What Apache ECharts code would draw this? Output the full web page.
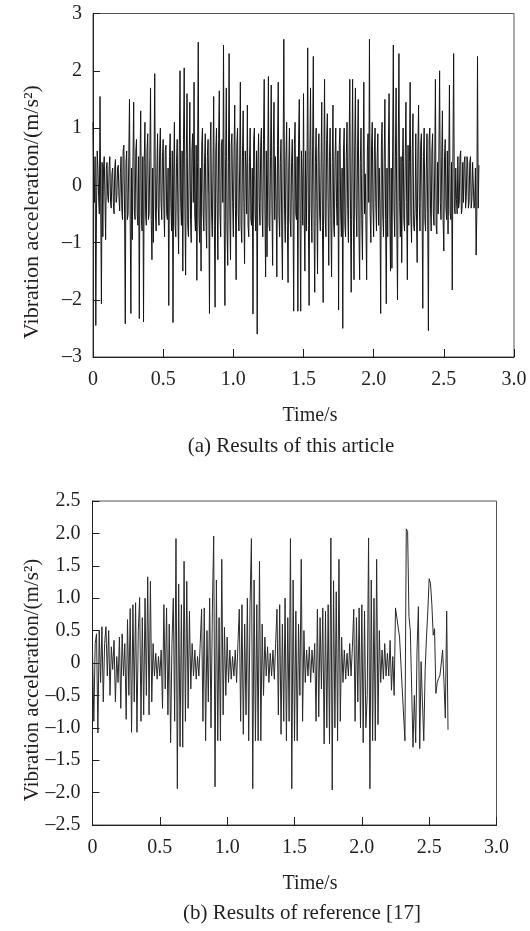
<!DOCTYPE html>
<html><head><meta charset="utf-8">
<script src="https://cdn.jsdelivr.net/npm/echarts/dist/echarts.min.js"></script>
<style>html,body{margin:0;padding:0;background:#fff}#c{width:530px;height:931px}</style>
</head><body><div id="c"></div>
<script>
// sampling steps (s)
const topStep = 0.005;
const bottomStep = 0.01;
const xTickLabels = ['0', '0.5', '1.0', '1.5', '2.0', '2.5', '3.0'];
const topYTickLabels = ['\u20133', '\u20132', '\u20131', '0', '1', '2', '3'];
const bottomYTickLabels = ['\u20132.5', '\u20132.0', '\u20131.5', '\u20131.0', '\u20130.5', '0', '0.5', '1.0', '1.5', '2.0', '2.5'];
const xTitle = 'Time/s';
const yTitle = 'Vibration acceleration/(m/s\u00b2)';
const captionTop = '(a) Results of this article';
const captionBottom = '(b) Results of reference [17]';

// (a) vibration acceleration, this article: samples at 0.00, 0.01, 0.02 ... s
const topValues = [
  1.1, -0.3, -2.45, 0.6, -0.2, 1.55, -2.07, -0.9, 0.5, -0.95,
  0.4, -0.3, 0.5, -0.4, 0.3, -0.5, 0.45, -0.2, 0.35, -0.45,
  0.5, -0.6, 0.7, -2.42, 0.6, -0.5, 1.5, -2.24, -0.95, 1.45,
  -0.6, 0.8, -0.7, -2.33, 1.3, -0.8, -2.39, 1.1, -0.7, 0.9,
  -0.5, 1.7, -1.3, -1.0, 1.95, -0.8, 0.9, -0.7, 1.0, -0.6,
  0.8, -0.9, 0.7, -0.6, -2.1, 0.9, -0.8, -2.4, 1.1, -0.9,
  0.8, -1.2, 2.0, -0.7, -1.5, 2.05, -1.57, 1.6, -0.9, 1.45,
  -1.0, 0.9, 1.8, -0.8, -1.66, 2.5, -1.0, -1.5, 1.0, -0.8,
  0.9, -1.1, 0.8, -2.24, 1.1, -0.9, 1.55, -2.13, 1.0, -1.3,
  1.65, -0.9, 0.8, 2.45, -2.1, 1.7, -1.4, 2.3, -1.3, 0.9,
  -0.9, 1.4, -1.65, 1.0, -0.8, 1.8, -1.0, 1.3, -1.37, 0.3,
  1.4, -0.9, 1.0, -0.7, -2.25, 1.0, -0.8, -2.6, 0.9, -0.7,
  1.0, -0.9, 1.85, -1.6, -1.25, 1.9, -0.8, 1.75, -1.4, 1.45,
  0.5, -1.6, 1.8, -0.9, 0.8, -1.65, 2.55, -1.0, 1.1, -1.7,
  1.0, -0.9, 0.8, -2.2, 1.1, -0.6, -2.2, 1.5, -2.2, 0.2,
  1.6, -1.5, -0.8, 2.4, -2.1, 1.7, -1.0, 2.25, -1.87, 1.0,
  -1.55, 0.9, -0.8, 1.45, -2.05, 1.85, -0.9, 1.25, -1.4, 1.0,
  -1.6, 1.4, -0.9, 1.0, -0.7, -2.18, 1.0, -0.9, -2.5, 1.0,
  -0.9, 1.1, -1.0, 1.85, -1.87, 1.85, -1.65, 1.7, -0.9, 1.5,
  -1.65, 1.0, -1.3, 1.8, 0.2, -1.65, 0.9, 2.55, -1.0, 1.1,
  -0.9, 1.0, -0.8, 0.9, 0.3, -2.24, 1.1, -0.9, 1.5, -2.07,
  -0.9, 1.6, -1.5, -1.45, 2.45, -0.9, 1.7, -2.0, 2.3, -0.9,
  -1.35, 1.0, -0.8, 1.45, -1.65, -0.7, 1.8, -1.0, 1.25, -0.8,
  0.9, -1.35, 1.4, -0.8, 0.9, -2.15, 1.0, -0.8, 0.9, -2.54,
  1.0, -0.8, 0.9, -0.7, 1.85, -0.85, -0.5, 2.0, -0.6, 1.3,
  -1.15, 0.8, -0.6, -0.85, 1.75, -0.6, -1.83, 2.3, -0.5, -0.25,
  0.5, -0.3, 0.6, -0.4, -0.3, 0.5, -0.2, 0.4, -0.3, 0.5,
  -0.25, 0.4, -0.3, -1.22, 2.25, 0.35
];
// (a) samples in between: 0.005, 0.015, 0.025 ... s
const topHalfStepValues = [
  0.2, 0.5, -0.4, 0.3, -0.5, -0.3, 0.4, 0.3, -0.2, 0.3,
  -0.2, 0.3, -0.3, 0.2, -0.3, 0.3, -0.3, 0.3, -0.2, 0.2,
  -0.4, 0.6, -0.5, 0.4, -0.6, 0.5, -0.6, 0.3, 0.5, -0.5,
  0.6, -0.5, 0.5, 0.4, -0.6, 0.5, 0.4, -0.5, 0.6, -0.6,
  0.5, -0.6, 0.3, 0.4, -0.5, 0.2, -0.4, 0.6, -0.3, 0.5,
  -0.4, 0.6, -0.5, 0.3, 0.5, -0.3, 0.6, 0.2, -0.7, 0.4,
  -0.5, 0.7, -0.3, 0.6, 0.8, -0.4, 0.5, -0.7, 0.3, -0.6,
  0.6, -0.3, -0.5, 0.7, 0.4, -0.6, 0.3, 0.7, -0.5, 0.4,
  -0.6, 0.5, -0.2, 0.7, -0.5, 0.3, -0.7, 0.6, -0.4, 0.8,
  -0.5, 0.7, -0.3, -0.6, 0.5, -0.8, 0.4, -0.5, 0.7, -0.3,
  0.6, -0.4, 0.7, -0.5, 0.3, -0.7, 0.5, -0.3, 0.6, -0.5,
  -0.7, 0.4, -0.6, 0.3, 0.8, -0.5, 0.6, 0.4, -0.3, 0.7,
  -0.5, 0.8, -0.4, 0.6, 0.3, -0.7, 0.5, -0.4, 0.7, -0.6,
  -0.3, 0.7, -0.5, 0.4, -0.8, 0.6, -0.4, 0.5, -0.7, 0.3,
  -0.6, 0.4, -0.3, 0.7, -0.5, 0.5, 0.8, -0.4, 0.6, -0.7,
  -0.5, 0.6, 0.3, -0.7, 0.5, -0.4, 0.7, -0.6, 0.4, -0.3,
  0.6, -0.5, 0.3, -0.7, 0.4, -0.6, 0.8, -0.3, 0.5, -0.6,
  0.4, -0.7, 0.5, -0.3, 0.6, 0.7, -0.5, 0.3, 0.6, -0.7,
  0.5, -0.4, 0.7, -0.6, 0.3, -0.5, 0.7, -0.4, 0.6, -0.8,
  0.4, -0.6, 0.3, -0.5, -0.7, 0.6, -0.3, -0.5, 0.7, -0.4,
  0.6, -0.3, 0.5, -0.7, -0.4, 0.7, -0.5, 0.4, -0.6, 0.3,
  0.7, -0.5, 0.3, 0.6, -0.4, 0.5, -0.7, 0.6, -0.3, 0.5,
  0.4, -0.6, 0.5, -0.3, 0.7, 0.4, -0.5, 0.6, -0.7, -0.4,
  -0.5, 0.6, -0.3, 0.7, -0.4, 0.5, -0.6, 0.3, -0.5, 0.8,
  -0.4, 0.6, -0.5, 0.3, -0.7, 0.4, 0.6, -0.3, 0.5, -0.6,
  0.5, -0.4, 0.6, 0.3, -0.5, 0.4, 0.6, -0.4, 0.3, -0.5,
  -0.4, 0.5, -0.5, 0.4, 0.4, -0.4, 0.5, -0.4, 0.4, -0.4,
  0.4, -0.4, 0.3, -0.5, -0.4
];

// (b) vibration acceleration, reference [17]  (null = gap bridged by a straight line)
const bottomValues = [
  0.2, -0.9, 0.3, 0.45, -1.08, 0.5, -0.3, 0.56, -0.6, 0.3,
  0.56, -0.2, 0.5, -0.5, 0.25, -0.1, 0.35, -0.6, 0.1, -0.3,
  0.4, -0.7, 0.45, -0.2, 0.3, -0.87, 0.67, -0.5, 0.84, -1.07,
  0.9, -0.6, 0.93, -1.07, 0.5, 1.01, -0.9, 0.7, -0.8, 1.0,
  -0.5, 1.33, -0.8, 1.26, -0.6, 0.3, -0.2, 0.15, -0.25, 0.1,
  -0.2, 0.2, -0.7, 0.9, -0.4, 0.85, -0.8, 0.6, -1.23, 0.3,
  1.0, -0.9, 1.92, -1.94, 1.22, -1.29, 0.9, -1.3, 1.57, -0.9,
  1.26, -0.7, 0.8, -0.4, 0.3, -0.2, 0.2, -0.25, 0.1, -0.2,
  0.3, 0.83, -0.9, 0.85, -1.2, 0.5, -0.6, 1.0, -1.0, 0.8,
  1.96, -1.91, 1.28, -1.2, 0.7, -1.2, 1.6, -0.8, 0.55, -0.5,
  0.4, -0.3, 0.2, -0.25, 0.1, -0.2, 0.2, -0.3, 0.3, 0.83,
  -0.9, 0.9, -1.1, 0.6, -0.8, 1.0, -1.2, 0.9, 1.92, -1.94,
  1.28, -1.2, 0.9, -1.2, 1.57, -1.2, 0.6, -0.5, 0.4, -0.2,
  0.25, -0.3, 0.15, -0.2, 0.2, -0.25, 0.3, 0.83, -0.8, 0.9,
  -1.1, 0.6, -0.9, 1.0, -1.2, 0.7, -0.9, 1.92, -1.94, 1.28,
  -1.2, 0.8, -1.2, 0.6, -0.5, 1.6, -0.9, 0.5, -0.3, 0.2,
  -0.2, 0.25, -0.3, 0.2, -0.15, 0.3, -0.9, 0.83, -0.83, 0.7,
  -0.4, 0.85, -1.25, 0.8, -1.0, 0.9, -1.25, 1.93, -1.96, 1.27,
  -1.0, 1.1, -1.2, 1.6, -0.9, 0.4, -0.3, 0.2, -0.25, 0.15,
  -0.2, 0.3, -0.2, 0.25, 0.83, -0.9, 0.7, -0.6, 0.85, -1.0,
  0.9, -1.23, 0.8, -1.0, -0.5, 1.93, -1.94, 1.28, -1.2, 1.0,
  -1.2, 1.6, -0.95, 0.5, -0.3, 0.2, -0.25, 0.3, -0.2, 0.15,
  -0.2, 0.35, -0.42, 0.1, -0.5, 0.85, null, null, 0.4, null,
  null, null, -1.2, 2.07, 2.03, 0.72, 0.5, -0.4, -1.3, -0.5,
  -1.23, 0.2, 0.87, -1.32, 0.02, -0.6, -1.2, -0.12, 0.4, 0.8,
  1.3, 1.23, 0.9, 0.43, 0.53, -0.47, -0.3, -0.24, -0.19, 0.0,
  0.2, -0.3, -0.85, 0.8, -1.03
];

const ink = '#231f20';
const serif = 'Liberation Serif';

// merge the two interleaved (a) sample lists in time order
const topSeq = [];
topValues.forEach((v, i) => {
  topSeq.push(v);
  if (i < topHalfStepValues.length) topSeq.push(topHalfStepValues[i]);
});
function toPoints(vals, step) {
  return vals.map((v, i) => [Math.round(i * step * 10000) / 10000, v]);
}

function xAxisCfg(gi) {
  return {
    type: 'value', gridIndex: gi, min: 0, max: 3, interval: 0.5,
    axisLine: { show: true, onZero: false, lineStyle: { color: ink, width: 1 } },
    axisTick: { show: true, inside: true, length: 8, lineStyle: { color: ink, width: 1 } },
    axisLabel: { margin: 13, color: ink, fontFamily: serif, fontSize: 20, showMinLabel: true, showMaxLabel: true,
      formatter: v => xTickLabels[Math.round(v / 0.5)] },
    splitLine: { show: false }
  };
}
function yAxisCfg(gi, min, max, step, labels, margin) {
  return {
    type: 'value', gridIndex: gi, min: min, max: max, interval: step,
    axisLine: { show: true, onZero: false, lineStyle: { color: ink, width: 1 } },
    axisTick: { show: true, inside: true, length: 7, lineStyle: { color: ink, width: 1 } },
    axisLabel: { margin: margin, color: ink, fontFamily: serif, fontSize: 20, showMinLabel: true, showMaxLabel: true,
      formatter: v => labels[Math.round((v - min) / step)] },
    splitLine: { show: false }
  };
}
function txt(x, y, s, rot, size) {
  return { type: 'text', x: x, y: y, rotation: rot || 0, silent: true,
    style: { text: s, fill: ink, fontFamily: serif, fontSize: size || 20, align: 'center', verticalAlign: 'middle' } };
}

const chart = echarts.init(document.getElementById('c'));
chart.setOption({
  animation: false,
  backgroundColor: '#fff',
  textStyle: { fontFamily: serif },
  grid: [
    { left: 93, top: 13.5, width: 421, height: 343.5, show: true, borderColor: '#555', borderWidth: 1, containLabel: false },
    { left: 92.5, top: 501, width: 404, height: 324, show: true, borderColor: '#555', borderWidth: 1, containLabel: false }
  ],
  xAxis: [xAxisCfg(0), xAxisCfg(1)],
  yAxis: [yAxisCfg(0, -3, 3, 1, topYTickLabels, 11), yAxisCfg(1, -2.5, 2.5, 0.5, bottomYTickLabels, 12)],
  series: [
    { type: 'line', xAxisIndex: 0, yAxisIndex: 0, data: toPoints(topSeq, topStep), showSymbol: false,
      lineStyle: { color: '#151515', width: 1 }, z: 3 },
    { type: 'line', xAxisIndex: 1, yAxisIndex: 1, data: toPoints(bottomValues, bottomStep), showSymbol: false, connectNulls: true,
      lineStyle: { color: '#2a2a2a', width: 1 }, z: 3 }
  ],
  graphic: [
    txt(310, 416, xTitle),
    txt(291, 446, captionTop, 0, 21),
    txt(310, 884, xTitle),
    txt(302, 913, captionBottom, 0, 21),
    txt(32, 212, yTitle, Math.PI / 2, 22),
    txt(32, 680, yTitle, Math.PI / 2, 21)
  ]
});
</script>
</body></html>
